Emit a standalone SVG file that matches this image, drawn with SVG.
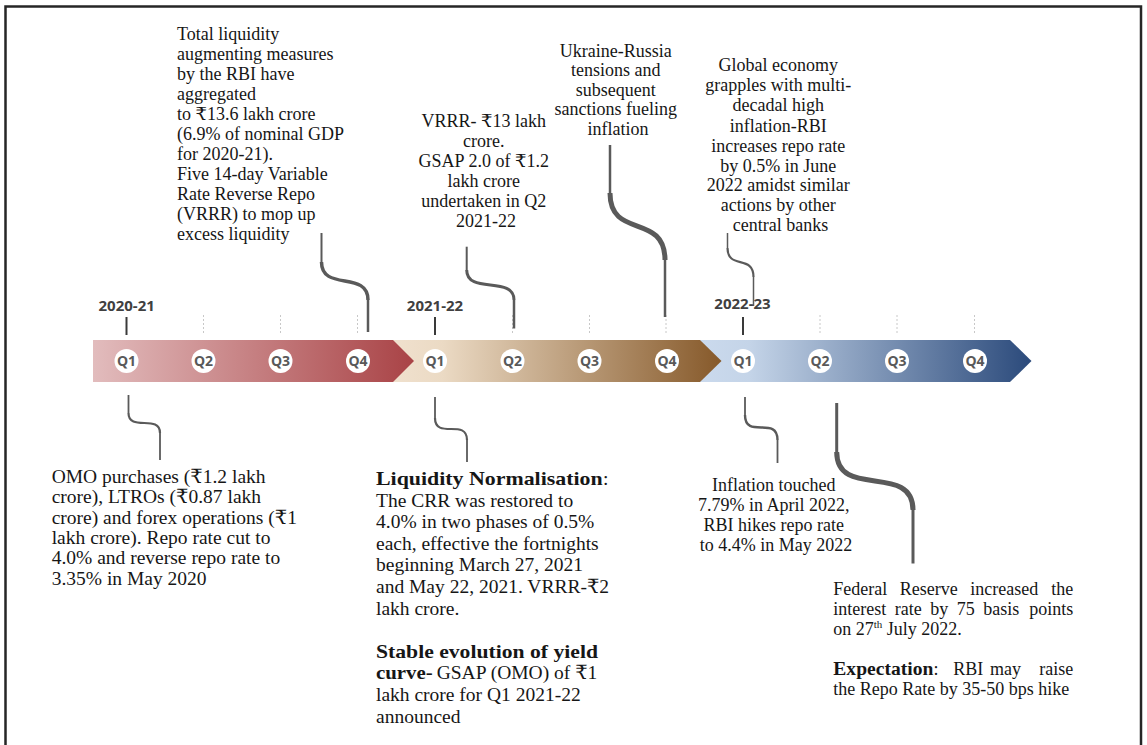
<svg xmlns="http://www.w3.org/2000/svg" width="1147" height="745" viewBox="0 0 1147 745">
<style>
.t{font-family:"Liberation Serif","DejaVu Serif",serif;fill:#161616}
.b{font-weight:bold}
.c{text-anchor:middle}
.yr{font-family:"Open Sans","DejaVu Sans",sans-serif;font-weight:bold;font-size:15px;fill:#404040;text-anchor:middle}
.q{font-family:"Open Sans","DejaVu Sans",sans-serif;font-weight:bold;font-size:14px;fill:#595959;text-anchor:middle}
.qc{fill:#ffffff}
.tick{stroke:#3a3a3a;stroke-width:2}
.dash{stroke:#c8c8c8;stroke-width:1;stroke-dasharray:2 2}
.cn{fill:none;stroke:#5a5a5a;stroke-linecap:butt}
</style>
<defs>
<linearGradient id="g1" x1="0" x2="1" y1="0" y2="0"><stop offset="0" stop-color="#e2bcbd"/><stop offset="1" stop-color="#a94346"/></linearGradient>
<linearGradient id="g2" x1="0" x2="1" y1="0" y2="0"><stop offset="0" stop-color="#f0e1ce"/><stop offset="0.15" stop-color="#ebdac4"/><stop offset="1" stop-color="#86592a"/></linearGradient>
<linearGradient id="g3" x1="0" x2="1" y1="0" y2="0"><stop offset="0" stop-color="#cbdaed"/><stop offset="0.15" stop-color="#c4d4e8"/><stop offset="1" stop-color="#2b4a7b"/></linearGradient>
</defs>
<rect x="0" y="0" width="1147" height="745" fill="#ffffff"/>
<rect x="5.5" y="6.5" width="1135.5" height="760" fill="none" stroke="#262626" stroke-width="2.5"/>

<g id="timeline">
<polygon id="seg3" points="700,340 1010,340 1031.5,361 1010,382 700,382" fill="url(#g3)"/>
<polygon id="seg2" points="393,340 700,340 721.5,361 700,382 393,382" fill="url(#g2)"/>
<polygon id="seg1" points="93,340 393,340 414,361 393,382 93,382" fill="url(#g1)"/>
</g>

<g id="ticks">
<line class="tick" x1="126.5" y1="317" x2="126.5" y2="335"/>
<line class="tick" x1="435" y1="317" x2="435" y2="335"/>
<line class="tick" x1="743" y1="317" x2="743" y2="335"/>
<line class="dash" x1="203.5" y1="315" x2="203.5" y2="335"/>
<line class="dash" x1="280.5" y1="315" x2="280.5" y2="335"/>
<line class="dash" x1="357.5" y1="315" x2="357.5" y2="335"/>
<line class="dash" x1="512.5" y1="315" x2="512.5" y2="335"/>
<line class="dash" x1="589.5" y1="315" x2="589.5" y2="335"/>
<line class="dash" x1="666" y1="315" x2="666" y2="335"/>
<line class="dash" x1="820" y1="315" x2="820" y2="335"/>
<line class="dash" x1="897" y1="315" x2="897" y2="335"/>
<line class="dash" x1="974.5" y1="315" x2="974.5" y2="335"/>
</g>

<g id="years">
<text class="yr" x="126.7" y="310.5">2020-21</text>
<text class="yr" x="435" y="310.5">2021-22</text>
<text class="yr" x="742.5" y="309">2022-23</text>
</g>

<g id="quarters">
<g id="q1a"><circle class="qc" cx="126.5" cy="361" r="12"/><text class="q" x="126.5" y="366">Q1</text></g>
<g id="q2a"><circle class="qc" cx="203.5" cy="361" r="12"/><text class="q" x="203.5" y="366">Q2</text></g>
<g id="q3a"><circle class="qc" cx="280.5" cy="361" r="12"/><text class="q" x="280.5" y="366">Q3</text></g>
<g id="q4a"><circle class="qc" cx="358" cy="361" r="12"/><text class="q" x="358" y="366">Q4</text></g>
<g id="q1b"><circle class="qc" cx="435" cy="361" r="12"/><text class="q" x="435" y="366">Q1</text></g>
<g id="q2b"><circle class="qc" cx="512.5" cy="361" r="12"/><text class="q" x="512.5" y="366">Q2</text></g>
<g id="q3b"><circle class="qc" cx="589.5" cy="361" r="12"/><text class="q" x="589.5" y="366">Q3</text></g>
<g id="q4b"><circle class="qc" cx="667" cy="361" r="12"/><text class="q" x="667" y="366">Q4</text></g>
<g id="q1c"><circle class="qc" cx="743" cy="361" r="12"/><text class="q" x="743" y="366">Q1</text></g>
<g id="q2c"><circle class="qc" cx="820" cy="361" r="12"/><text class="q" x="820" y="366">Q2</text></g>
<g id="q3c"><circle class="qc" cx="897" cy="361" r="12"/><text class="q" x="897" y="366">Q3</text></g>
<g id="q4c"><circle class="qc" cx="975" cy="361" r="12"/><text class="q" x="975" y="366">Q4</text></g>
</g>

<g id="connectors">
<path class="cn" stroke-width="2" d="M321.5,233 V262"/>
<path class="cn" stroke-width="3.5" d="M321.5,262 C321.5,292 368,270 368,300"/>
<path class="cn" stroke-width="2.5" d="M368,300 V332"/>

<path class="cn" stroke-width="2" d="M466.7,246.7 V270"/>
<path class="cn" stroke-width="3" d="M466.7,270 C466.7,295 514,275 514,300"/>
<path class="cn" stroke-width="2.5" d="M514,300 V328.5"/>

<path class="cn" stroke-width="2.5" d="M610,145 V193"/>
<path class="cn" stroke-width="5" d="M610,193 C610,240 665,212 665,260"/>
<path class="cn" stroke-width="2.5" d="M665,260 V317"/>

<path class="cn" stroke-width="1.5" d="M727.5,233 V248"/>
<path class="cn" stroke-width="2.2" d="M727.5,248 C727.5,270 753.5,254 753.5,277"/>
<path class="cn" stroke-width="1.5" d="M753.5,277 V306"/>

<path class="cn" stroke-width="1.8" d="M128.5,395 V413"/>
<path class="cn" stroke-width="2.2" d="M128.5,413 C128.5,432 160,414 160,433"/>
<path class="cn" stroke-width="1.8" d="M160,433 V460"/>

<path class="cn" stroke-width="1.8" d="M435,397 V418"/>
<path class="cn" stroke-width="2.2" d="M435,418 C435,440 467,418 467,440"/>
<path class="cn" stroke-width="1.8" d="M467,440 V462"/>

<path class="cn" stroke-width="1.8" d="M745,397 V415"/>
<path class="cn" stroke-width="2.4" d="M745,415 C745,440 777.5,415 777.5,440"/>
<path class="cn" stroke-width="1.8" d="M777.5,440 V463"/>

<path class="cn" stroke-width="3" d="M836.7,403 V452"/>
<path class="cn" stroke-width="5" d="M836.7,452 C836.7,500 913,462 913,510"/>
<path class="cn" stroke-width="3" d="M913,510 V563.5"/>
</g>

<g id="note-liquidity-measures">
<text class="t" font-size="18" x="177">
<tspan x="177" y="40">Total liquidity</tspan>
<tspan x="177" y="60">augmenting measures</tspan>
<tspan x="177" y="80">by the RBI have</tspan>
<tspan x="177" y="100">aggregated</tspan>
<tspan x="177" y="120">to ₹13.6 lakh crore</tspan>
<tspan x="177" y="140">(6.9% of nominal GDP</tspan>
<tspan x="177" y="160">for 2020-21).</tspan>
<tspan x="177" y="180">Five 14-day Variable</tspan>
<tspan x="177" y="200">Rate Reverse Repo</tspan>
<tspan x="177" y="220">(VRRR) to mop up</tspan>
<tspan x="177" y="240">excess liquidity</tspan>
</text>
</g>

<g id="note-vrrr">
<text class="t c" font-size="18">
<tspan x="486" y="127">VRRR- ₹13 lakh</tspan>
<tspan x="486" y="147">crore.</tspan>
<tspan x="486" y="167">GSAP 2.0 of ₹1.2</tspan>
<tspan x="486" y="187">lakh crore</tspan>
<tspan x="486" y="207">undertaken in Q2</tspan>
<tspan x="486" y="227">2021-22</tspan>
</text>
</g>

<g id="note-ukraine">
<text class="t c" font-size="18">
<tspan x="618" y="56.5">Ukraine-Russia</tspan>
<tspan x="618" y="76">tensions and</tspan>
<tspan x="618" y="95.7">subsequent</tspan>
<tspan x="618" y="115.3">sanctions fueling</tspan>
<tspan x="618" y="135">inflation</tspan>
</text>
</g>

<g id="note-global">
<text class="t c" font-size="18">
<tspan x="780.5" y="71">Global economy</tspan>
<tspan x="780.5" y="91">grapples with multi-</tspan>
<tspan x="780.5" y="111">decadal high</tspan>
<tspan x="780.5" y="131.5">inflation-RBI</tspan>
<tspan x="780.5" y="151.5">increases repo rate</tspan>
<tspan x="780.5" y="171.5">by 0.5% in June</tspan>
<tspan x="780.5" y="191">2022 amidst similar</tspan>
<tspan x="780.5" y="211">actions by other</tspan>
<tspan x="780.5" y="231">central banks</tspan>
</text>
</g>

<g id="note-omo">
<text class="t" font-size="19.5">
<tspan x="51.7" y="483">OMO purchases (₹1.2 lakh</tspan>
<tspan x="51.7" y="503.3">crore), LTROs (₹0.87 lakh</tspan>
<tspan x="51.7" y="523.6">crore) and forex operations (₹1</tspan>
<tspan x="51.7" y="544">lakh crore). Repo rate cut to</tspan>
<tspan x="51.7" y="564.3">4.0% and reverse repo rate to</tspan>
<tspan x="51.7" y="584.6">3.35% in May 2020</tspan>
</text>
</g>

<g id="note-normalisation">
<text class="t b" font-size="19.5" x="376" y="485" textLength="226.7" lengthAdjust="spacingAndGlyphs">Liquidity Normalisation</text>
<text class="t" font-size="19.5" x="603" y="485">:</text>
<text class="t" font-size="19.5">
<tspan x="376" y="506.6">The CRR was restored to</tspan>
<tspan x="376" y="528.2">4.0% in two phases of 0.5%</tspan>
<tspan x="376" y="549.8">each, effective the fortnights</tspan>
<tspan x="376" y="571.4">beginning March 27, 2021</tspan>
<tspan x="376" y="593">and May 22, 2021. VRRR-₹2</tspan>
<tspan x="376" y="614.6">lakh crore.</tspan>
</text>
<text class="t b" font-size="19.5" x="376" y="657.8" textLength="222" lengthAdjust="spacingAndGlyphs">Stable evolution of yield</text>
<text class="t b" font-size="19.5" x="376" y="679.4" textLength="56.7" lengthAdjust="spacingAndGlyphs">curve-</text>
<text class="t" font-size="19.5" x="436.7" y="679.4">GSAP (OMO) of ₹1</text>
<text class="t" font-size="19.5">
<tspan x="376" y="701">lakh crore for Q1 2021-22</tspan>
<tspan x="376" y="722.6">announced</tspan>
</text>
</g>

<g id="note-inflation">
<text class="t c" font-size="18">
<tspan x="776" y="491">Inflation touched</tspan>
<tspan x="776" y="511">7.79% in April 2022,</tspan>
<tspan x="776" y="531">RBI hikes repo rate</tspan>
<tspan x="776" y="551">to 4.4% in May 2022</tspan>
</text>
</g>

<g id="note-fed">
<text class="t" font-size="18" x="833.3" y="595" word-spacing="8">Federal Reserve increased <tspan x="1073.3" text-anchor="end" word-spacing="0">the</tspan></text>
<text class="t" font-size="18" x="833.3" y="615" word-spacing="4">interest rate by 75 basis <tspan x="1073.3" text-anchor="end" word-spacing="0">points</tspan></text>
<text class="t" font-size="18" x="833.3" y="635">on 27<tspan font-size="11" dy="-7">th</tspan><tspan dy="7"> July 2022.</tspan></text>
<text class="t b" font-size="18" x="833.3" y="675" textLength="100" lengthAdjust="spacingAndGlyphs">Expectation</text>
<text class="t" font-size="18" y="675"><tspan x="933.5">:</tspan><tspan x="953.3">RBI</tspan><tspan x="990">may</tspan></text>
<text class="t" font-size="18" x="1073.3" y="675" text-anchor="end">raise</text>
<text class="t" font-size="18" x="833.3" y="695">the Repo Rate by 35-50 bps hike</text>
</g>
</svg>
